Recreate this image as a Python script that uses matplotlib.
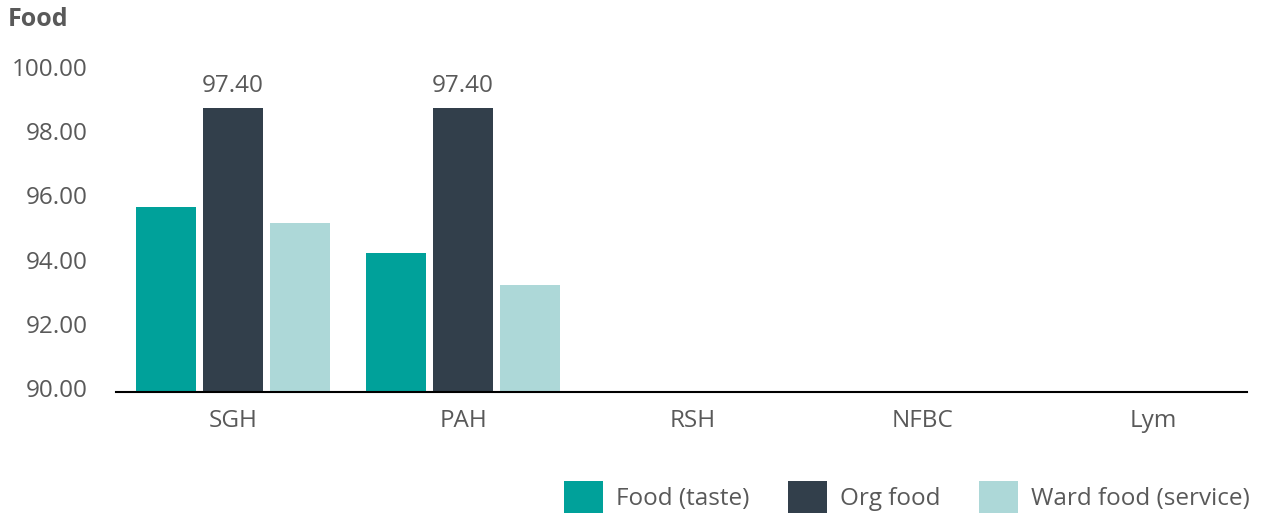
import numpy as np
import matplotlib.pyplot as plt
import matplotlib.transforms as mtransforms
from matplotlib.patches import Patch

plt.rcParams['font.family'] = ['Open Sans', 'DejaVu Sans']

hospitals = ['SGH', 'PAH', 'RSH', 'NFBC', 'Lym']
series = ['Food (taste)', 'Org food', 'Ward food (service)']
food_taste = [95.75, 94.34, np.nan, np.nan, np.nan]
org_food = [98.84, 98.84, np.nan, np.nan, np.nan]
ward_food = [95.28, 93.34, np.nan, np.nan, np.nan]
org_labels = ['97.40', '97.40', '', '', '']

colors = ['#00A19A', '#323F4B', '#ADD8D8']
grey = '#595959'
fs = 17.5

fig = plt.figure(figsize=(12.62, 5.17), dpi=100)
ax = fig.add_axes([116 / 1262, 1 - 392 / 517, (1247 - 116) / 1262, (392 - 71) / 517])

x = np.arange(len(hospitals))
w = 0.26
off = 0.29
for vals, c, d in zip([food_taste, org_food, ward_food], colors, [-off, 0, off]):
    ax.bar(x + d, np.array(vals) - 90, width=w, bottom=90, color=c)

for xi, v, lab in zip(x, org_food, org_labels):
    if lab:
        ax.annotate(lab, (xi, v), xytext=(0, 7.5), textcoords='offset points',
                    ha='center', va='bottom', fontsize=fs, color=grey)

ax.set_ylim(90, 100)
ax.set_xlim(-0.509, 4.409)
yt = [90, 92, 94, 96, 98, 100]
ax.set_yticks(yt)
ax.set_yticklabels([f'{v:.2f}' for v in yt])
ax.set_xticks(x)
ax.set_xticklabels(hospitals)
ax.tick_params(axis='both', length=0, labelsize=fs, labelcolor=grey)
ax.tick_params(axis='x', pad=12)
ax.tick_params(axis='y', pad=20.5)
shift = mtransforms.ScaledTranslation(0, 4 / 100, fig.dpi_scale_trans)
for lbl in ax.get_yticklabels():
    lbl.set_transform(lbl.get_transform() + shift)
for s in ['top', 'right', 'left']:
    ax.spines[s].set_visible(False)
ax.spines['bottom'].set_color('black')
ax.spines['bottom'].set_linewidth(1.5)

fig.text(8 / 1262, 1 - 20 / 517, 'Food', fontsize=18, fontweight='bold', color=grey, va='center')

handles = [Patch(facecolor=c) for c in colors]
fig.legend(handles, series, loc='center right', bbox_to_anchor=(1250 / 1262, 1 - 497 / 517), ncol=3,
           frameon=False, fontsize=fs, handlelength=1.6, handleheight=1.6,
           columnspacing=1.58, handletextpad=0.55, labelcolor=grey,
           borderpad=0, borderaxespad=0)

fig.savefig('out.png', dpi=100)
